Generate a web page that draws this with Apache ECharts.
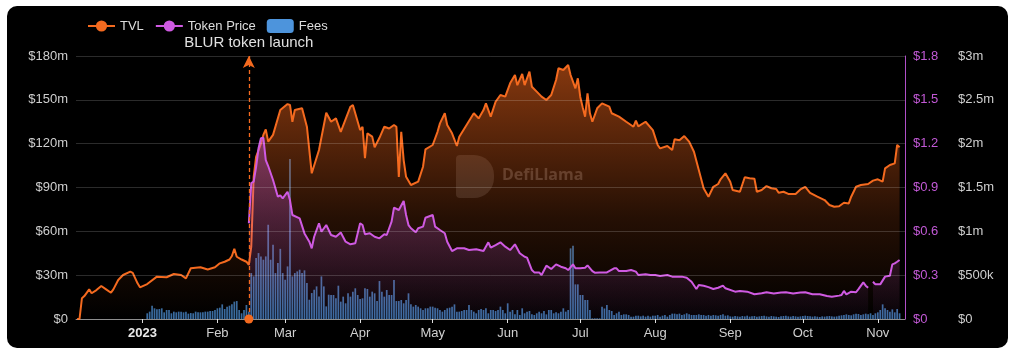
<!DOCTYPE html>
<html><head><meta charset="utf-8">
<script src="https://cdn.jsdelivr.net/npm/echarts@6/dist/echarts.min.js"></script>
<style>
html,body{margin:0;padding:0;background:#fff;width:1017px;height:358px;overflow:hidden}
#bg{position:absolute;left:7px;top:6px;width:1001px;height:342px;background:#000;border-radius:10px}
#chart{position:absolute;left:0;top:0;width:1017px;height:358px}
</style></head><body><div id="bg"></div><div id="chart"></div>
<script>
// TVL in $m
const tvl = [
['2022-12-05',0],['2022-12-06',0],['2022-12-07',14.2],['2022-12-08',15.7],['2022-12-10',20.3],['2022-12-11',17.6],
['2022-12-13',19.8],['2022-12-15',22.6],['2022-12-17',20.3],['2022-12-19',18.0],['2022-12-20',20.3],['2022-12-22',26.7],
['2022-12-24',30.1],['2022-12-27',32.4],['2022-12-28',31.6],['2022-12-30',24.4],['2022-12-31',21.7],['2023-01-03',23.9],
['2023-01-07',29],['2023-01-11',28.6],['2023-01-14',30.8],['2023-01-17',30.1],['2023-01-19',27.8],['2023-01-21',34.7],
['2023-01-25',35.4],['2023-01-28',33.9],['2023-01-31',35.4],['2023-02-02',38.1],['2023-02-04',39.2],['2023-02-06',40.7],
['2023-02-07',43.1],['2023-02-08',48.1],['2023-02-09',42.6],['2023-02-11',40.7],['2023-02-13',39.2],['2023-02-14',37],
['2023-02-15',49.5],['2023-02-16',97.3],['2023-02-17',111],['2023-02-19',120],['2023-02-20',126],['2023-02-21',129.8],
['2023-02-22',121.4],['2023-02-24',126],['2023-02-27',143],['2023-03-02',147.1],['2023-03-03',146.5],['2023-03-04',135],
['2023-03-05',143],['2023-03-08',144.2],['2023-03-10',131.6],['2023-03-12',99.7],['2023-03-15',115.7],['2023-03-18',141.2],
['2023-03-20',135],['2023-03-22',137.3],['2023-03-24',128.1],['2023-03-28',145.3],['2023-03-29',146.5],['2023-04-01',129.3],
['2023-04-02',131.6],['2023-04-03',110],['2023-04-04',127],['2023-04-06',124.8],['2023-04-07',117.5],['2023-04-09',124],
['2023-04-11',131.6],['2023-04-13',130.4],['2023-04-15',132.8],['2023-04-16',131.6],['2023-04-17',97.3],['2023-04-18',128.1],
['2023-04-19',108.8],['2023-04-20',97.3],['2023-04-22',91.7],['2023-04-25',94],['2023-04-27',104.2],['2023-04-28',116.1],
['2023-05-01',119.1],['2023-05-03',128.1],['2023-05-04',133.9],['2023-05-06',140.8],['2023-05-07',132.8],['2023-05-09',127.1],
['2023-05-11',118.4],['2023-05-12',124.8],['2023-05-15',132.8],['2023-05-18',140.8],['2023-05-20',137.3],['2023-05-22',143],
['2023-05-23',147.6],['2023-05-25',138.5],['2023-05-27',148.7],['2023-05-29',153.3],['2023-05-31',152.2],['2023-06-02',161.3],
['2023-06-04',167],['2023-06-05',160],['2023-06-07',167.7],['2023-06-08',160.1],['2023-06-10',169.3],['2023-06-11',159],
['2023-06-13',155.6],['2023-06-15',152.2],['2023-06-17',149.9],['2023-06-19',153.3],['2023-06-21',163.6],['2023-06-22',171.6],
['2023-06-24',170.4],['2023-06-26',173.8],['2023-06-27',167],['2023-06-29',157.9],['2023-06-30',164.7],['2023-07-01',152],
['2023-07-02',145],['2023-07-03',138.5],['2023-07-04',154.4],['2023-07-05',140.8],['2023-07-06',135],['2023-07-08',144.2],
['2023-07-10',147.6],['2023-07-13',145.3],['2023-07-14',140.8],['2023-07-17',138.5],['2023-07-20',135],['2023-07-23',131.6],
['2023-07-24',135.7],['2023-07-25',131.8],['2023-07-28',135],['2023-07-31',129.3],['2023-08-02',119.1],['2023-08-03',116.8],
['2023-08-06',118.4],['2023-08-08',115.7],['2023-08-09',123],['2023-08-11',122.3],['2023-08-13',125.2],['2023-08-15',121.4],
['2023-08-17',114.5],['2023-08-19',102],['2023-08-21',89.5],['2023-08-23',83.7],['2023-08-25',90.5],['2023-08-27',92.4],
['2023-08-28',95.6],['2023-08-30',99.7],['2023-09-01',94],['2023-09-02',88.3],['2023-09-05',87.1],['2023-09-07',97],
['2023-09-09',96.3],['2023-09-11',96],['2023-09-12',87.1],['2023-09-14',88.3],['2023-09-16',91],['2023-09-18',89.5],
['2023-09-20',89],['2023-09-21',86.4],['2023-09-23',87.1],['2023-09-25',85.6],['2023-09-28',85.6],['2023-09-30',88.7],
['2023-10-02',90.5],['2023-10-04',86.4],['2023-10-07',83.7],['2023-10-10',81.4],['2023-10-12',78],['2023-10-14',76.8],
['2023-10-16',77.2],['2023-10-18',79.6],['2023-10-20',79.1],['2023-10-21',83.7],['2023-10-23',90.5],['2023-10-25',91.7],
['2023-10-28',92.4],['2023-10-30',94.7],['2023-11-01',95.6],['2023-11-03',94],['2023-11-04',103.1],['2023-11-06',105.4],
['2023-11-08',106.5],['2023-11-09',119.1],['2023-11-10',117.5]
];
// Token price in $
const price = [
['2023-02-14',0.655],['2023-02-15',0.93],['2023-02-16',0.94],['2023-02-17',1.04],['2023-02-18',1.168],['2023-02-19',1.237],
['2023-02-20',1.24],['2023-02-21',1.088],['2023-02-22',1.047],['2023-02-24',0.951],['2023-02-26',0.837],['2023-02-27',0.846],
['2023-02-28',0.826],['2023-03-02',0.871],['2023-03-03',0.814],['2023-03-04',0.712],['2023-03-07',0.689],['2023-03-09',0.586],
['2023-03-11',0.529],['2023-03-12',0.484],['2023-03-13',0.563],['2023-03-15',0.655],['2023-03-16',0.597],['2023-03-18',0.643],
['2023-03-20',0.575],['2023-03-22',0.563],['2023-03-24',0.592],['2023-03-26',0.529],['2023-03-28',0.511],['2023-03-30',0.518],
['2023-04-01',0.655],['2023-04-02',0.643],['2023-04-03',0.58],['2023-04-05',0.587],['2023-04-07',0.563],['2023-04-09',0.552],
['2023-04-11',0.58],['2023-04-12',0.575],['2023-04-14',0.666],['2023-04-15',0.762],['2023-04-17',0.746],['2023-04-19',0.808],
['2023-04-20',0.712],['2023-04-21',0.643],['2023-04-22',0.621],['2023-04-24',0.593],['2023-04-25',0.621],['2023-04-27',0.632],
['2023-04-28',0.693],['2023-05-01',0.712],['2023-05-02',0.632],['2023-05-04',0.609],['2023-05-06',0.587],['2023-05-07',0.529],
['2023-05-09',0.465],['2023-05-11',0.484],['2023-05-14',0.484],['2023-05-16',0.472],['2023-05-19',0.478],['2023-05-22',0.465],
['2023-05-24',0.525],['2023-05-25',0.488],['2023-05-27',0.506],['2023-05-29',0.525],['2023-05-31',0.495],['2023-06-02',0.472],
['2023-06-04',0.511],['2023-06-06',0.45],['2023-06-08',0.426],['2023-06-09',0.42],['2023-06-11',0.335],['2023-06-12',0.319],
['2023-06-14',0.319],['2023-06-15',0.301],['2023-06-17',0.365],['2023-06-19',0.342],['2023-06-21',0.374],['2023-06-23',0.358],
['2023-06-25',0.347],['2023-06-26',0.335],['2023-06-28',0.374],['2023-06-29',0.347],['2023-07-01',0.347],['2023-07-03',0.351],
['2023-07-04',0.367],['2023-07-06',0.328],['2023-07-07',0.317],['2023-07-09',0.319],['2023-07-12',0.319],['2023-07-15',0.347],
['2023-07-16',0.347],['2023-07-17',0.328],['2023-07-20',0.328],['2023-07-22',0.335],['2023-07-24',0.324],['2023-07-25',0.301],
['2023-07-28',0.306],['2023-07-30',0.301],['2023-08-01',0.301],['2023-08-03',0.294],['2023-08-06',0.301],['2023-08-08',0.29],
['2023-08-10',0.29],['2023-08-12',0.29],['2023-08-14',0.283],['2023-08-16',0.255],['2023-08-18',0.205],['2023-08-19',0.233],
['2023-08-21',0.228],['2023-08-23',0.218],['2023-08-25',0.205],['2023-08-27',0.214],['2023-08-29',0.228],['2023-08-30',0.21],
['2023-09-03',0.187],['2023-09-05',0.192],['2023-09-08',0.187],['2023-09-11',0.169],['2023-09-14',0.176],['2023-09-16',0.183],
['2023-09-19',0.174],['2023-09-22',0.181],['2023-09-24',0.183],['2023-09-27',0.174],['2023-09-30',0.181],['2023-10-02',0.183],
['2023-10-05',0.169],['2023-10-08',0.169],['2023-10-11',0.157],['2023-10-13',0.153],['2023-10-16',0.16],['2023-10-17',0.164],
['2023-10-18',0.192],['2023-10-19',0.169],['2023-10-21',0.187],['2023-10-23',0.183],['2023-10-24',0.205],['2023-10-26',0.251],
['2023-10-27',0.228],['2023-10-28',0.214],['2023-10-29',null],['2023-10-30',0.255],['2023-10-31',0.237],['2023-11-02',0.237],
['2023-11-04',0.29],['2023-11-06',0.296],['2023-11-07',0.374],['2023-11-08',0.381],['2023-11-09',0.392],['2023-11-10',0.404]
];
// Daily fees in $k, starting 2023-01-03
const feesStart = '2023-01-03';
const fees = [
/* Jan 3-31 */ 65,84,152,122,110,114,122,76,103,103,65,84,76,84,84,76,84,61,68,65,84,76,76,76,84,84,91,91,103,
/* Feb */ 122,129,167,114,141,152,167,198,205,103,65,103,160,84,524,486,695,752,714,676,714,1075,676,847,524,638,800,524,
/* Mar */ 448,600,1824,486,524,543,562,524,555,410,220,296,334,372,258,486,372,144,277,274,274,236,380,198,255,179,293,255,312,350,274,
/* Apr */ 228,236,350,342,255,312,293,205,433,312,255,331,274,274,445,205,205,217,179,217,293,167,141,160,141,122,103,122,122,141,
/* May */ 141,129,122,103,84,103,122,129,141,167,84,84,91,103,103,160,103,84,65,103,114,103,122,65,103,103,91,103,141,103,65,
/* Jun */ 179,84,103,53,103,46,122,65,84,91,53,46,65,84,65,91,53,103,103,65,76,65,84,122,84,103,806,836,395,395,
/* Jul */ 274,274,217,217,103,8,8,8,8,140,120,160,103,91,46,65,84,46,53,53,46,27,27,38,38,30,38,27,38,27,38,
/* Aug */ 38,46,27,38,46,27,46,61,61,53,61,46,53,65,53,46,46,46,53,46,46,38,46,38,46,42,38,46,53,38,42,
/* Sep */ 30,27,34,30,27,34,30,38,27,30,34,27,30,34,38,30,27,34,30,27,23,30,34,38,30,27,34,30,27,30,
/* Oct */ 34,38,34,30,27,30,27,23,30,27,30,34,30,27,30,38,42,46,53,46,42,53,61,57,46,53,61,53,65,46,65,
/* Nov 1-10 */ 76,103,167,122,103,84,110,76,114,65
];
const launchDate = '2023-02-14';
const launchLabel = 'BLUR token launch';
const monthLabels = ['2023','Feb','Mar','Apr','May','Jun','Jul','Aug','Sep','Oct','Nov','Dec'];
const tvlTicks = [0,30,60,90,120,150,180];
const priceTicks = [0,0.3,0.6,0.9,1.2,1.5,1.8];
const feeTicks = [0,500,1000,1500,2000,2500,3000];

function pad(n){return n<10?'0'+n:''+n;}
const feeData = fees.map((v,i)=>{
  const p = feesStart.split('-').map(Number);
  const d = new Date(p[0], p[1]-1, p[2]+i);
  return [d.getFullYear()+'-'+pad(d.getMonth()+1)+'-'+pad(d.getDate()), v];
});

const FONT = '"Liberation Sans", Arial, Helvetica, sans-serif';
const ORANGE = '#f46a1f', PURPLE = '#cf5ae2', BLUE = '#4d94dc';
const chart = echarts.init(document.getElementById('chart'), null, {renderer:'canvas'});
chart.setOption({
  animation:false,
  backgroundColor:'transparent',
  textStyle:{fontFamily:FONT},
  legend:{
    left:82, top:14, itemWidth:27, itemHeight:14, itemGap:11,
    textStyle:{color:'#dddddd', fontSize:13, fontFamily:FONT},
    data:[{name:'TVL'},{name:'Token Price'},{name:'Fees', itemStyle:{color:BLUE, opacity:1}}]
  },
  grid:{left:76, right:112, top:56, bottom:39, containLabel:false},
  xAxis:{
    type:'time',
    min:new Date('2022-12-04T21:40:00').getTime(),
    max:new Date('2023-11-11T21:20:00').getTime(),
    splitNumber:11,
    axisLine:{show:true, lineStyle:{color:'#777', width:1}},
    axisTick:{show:true, length:4, lineStyle:{color:'#ddd'}},
    splitLine:{show:false},
    axisLabel:{
      color:'#d0d0d0', fontSize:13, margin:8, fontFamily:FONT,
      formatter:function(v){const d=new Date(v); return d.getMonth()===0?'{y|'+d.getFullYear()+'}':monthLabels[d.getMonth()];},
      rich:{y:{fontWeight:'bold', color:'#e8e8e8', fontSize:13, fontFamily:FONT}}
    }
  },
  yAxis:[
    {type:'value', min:tvlTicks[0], max:tvlTicks[tvlTicks.length-1], interval:30, position:'left', z:5,
     axisLine:{show:false}, axisTick:{show:false},
     splitLine:{show:true, lineStyle:{color:'rgba(255,255,255,0.17)', width:1}},
     axisLabel:{color:'#cfcfcf', fontSize:13, margin:8, fontFamily:FONT, formatter:v=>v===0?'$0':'$'+v+'m'}},
    {type:'value', min:priceTicks[0], max:priceTicks[priceTicks.length-1], interval:0.3, position:'right', offset:0, z:5,
     axisLine:{show:true, lineStyle:{color:'#b04fc8', width:1}}, axisTick:{show:false}, splitLine:{show:false},
     axisLabel:{color:'#c259d6', fontSize:13, margin:8, fontFamily:FONT, formatter:v=>v===0?'$0':'$'+(Math.round(v*10)/10)}},
    {type:'value', min:feeTicks[0], max:feeTicks[feeTicks.length-1], interval:500, position:'right', offset:45, z:5,
     axisLine:{show:false}, axisTick:{show:false}, splitLine:{show:false},
     axisLabel:{color:'#cfcfcf', fontSize:13, margin:8, fontFamily:FONT, formatter:v=>v===0?'$0':(v<1000?'$'+v+'k':'$'+(v/1000)+'m')}}
  ],
  graphic:[{
    type:'group', left:456, top:155, silent:true, z:0,
    children:[
      {type:'rect', shape:{x:0,y:0,width:38,height:43,r:[4,20,20,4]}, style:{fill:'rgba(255,255,255,0.12)'}},
      {type:'text', x:46, y:12, style:{text:'DefiLlama', fill:'rgba(255,255,255,0.2)', font:'bold 16px "Open Sans", sans-serif'}}
    ]
  }],
  series:[
    {name:'Fees', type:'bar', yAxisIndex:2, data:feeData, barWidth:1.7, z:1,
     itemStyle:{color:'rgba(77,148,220,0.72)'}},
    {name:'TVL', type:'line', yAxisIndex:0, data:tvl, symbol:'circle', symbolSize:8, showSymbol:false, z:3,
     lineStyle:{color:ORANGE, width:2}, itemStyle:{color:ORANGE},
     areaStyle:{color:new echarts.graphic.LinearGradient(0,0,0,1,[
        {offset:0,color:'rgba(244,102,27,0.78)'},{offset:0.6,color:'rgba(244,102,27,0.22)'},{offset:1,color:'rgba(244,102,27,0)'}])},
     markLine:{silent:true, symbol:['circle','arrow'], symbolSize:[9,12], animation:false, z:10,
       itemStyle:{color:ORANGE},
       lineStyle:{color:ORANGE, type:[4,3], width:1.3, opacity:1},
       label:{show:true, position:'end', formatter:launchLabel, color:'#e0e0e0', fontSize:15, distance:6, fontFamily:FONT},
       data:[{xAxis:launchDate, lineStyle:{color:ORANGE, type:[4,3], width:1.3, opacity:1}}]}},
    {name:'Token Price', type:'line', yAxisIndex:1, data:price, symbol:'circle', symbolSize:8, showSymbol:false, z:4,
     connectNulls:false,
     lineStyle:{color:PURPLE, width:2}, itemStyle:{color:PURPLE},
     areaStyle:{color:new echarts.graphic.LinearGradient(0,0,0,1,[
        {offset:0,color:'rgba(207,90,226,0.55)'},{offset:1,color:'rgba(207,90,226,0.04)'}])}}
  ]
});
</script></body></html>
